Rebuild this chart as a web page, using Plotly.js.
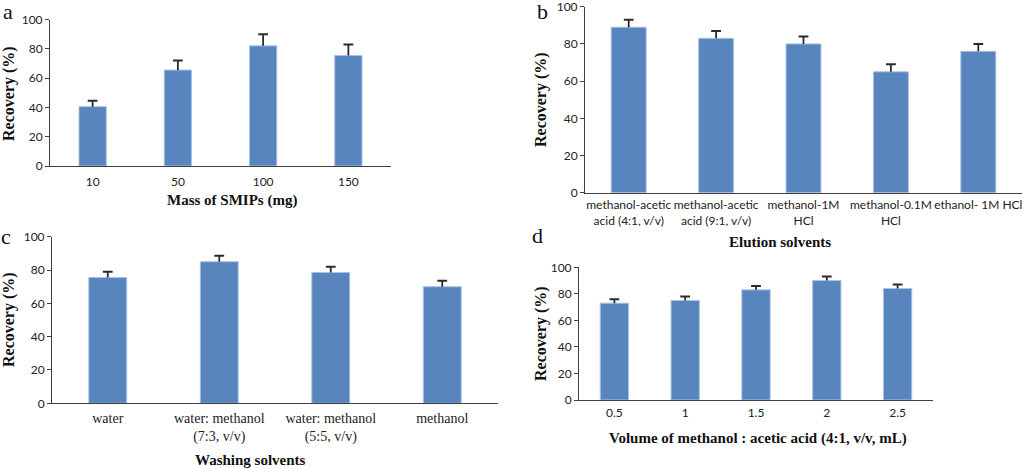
<!DOCTYPE html>
<html>
<head>
<meta charset="utf-8">
<script src="https://cdn.plot.ly/plotly-3.0.1.min.js"></script>
<style>html,body{margin:0;padding:0;background:#fff;}#chart{width:1027px;height:469px;}</style>
</head>
<body>
<div id="chart"></div>
<script>
// ---- data ----
const categoriesA = ['10', '50', '100', '150'];
const valuesA = [40.5, 65.5, 82, 75.5];
const errorsA = [4, 6.5, 8, 7.5];

const categoriesB = ['methanol-acetic<br>acid (4:1, v/v)', 'methanol-acetic<br>acid (9:1, v/v)', 'methanol-1M<br>HCl', 'methanol-0.1M<br>HCl', 'ethanol- 1M HCl'];
const valuesB = [89, 83, 80, 65, 76];
const errorsB = [4, 4, 4, 4, 4];

const categoriesC = ['water', 'water: methanol<br>(7:3, v/v)', 'water: methanol<br>(5:5, v/v)', 'methanol'];
const valuesC = [75.5, 85, 78.5, 70];
const errorsC = [3.5, 3.5, 3.5, 3.5];

const categoriesD = ['0.5', '1', '1.5', '2', '2.5'];
const valuesD = [73, 75, 83, 90, 84];
const errorsD = [3, 3, 3, 3, 3];

const yTicks = [0, 20, 40, 60, 80, 100];
const yTitle = 'Recovery (%)';
const xTitles = ['Mass of SMIPs (mg)', 'Elution solvents', 'Washing solvents', 'Volume of methanol : acetic acid (4:1, v/v, mL)'];
const panelLetters = ['a', 'b', 'c', 'd'];

// ---- layout helpers ----
const W = 1027, H = 469;
const px = x => x / W;
const py = y => (H - y) / H;

const barColor = '#5985bf';
const barEdge = '#a9c3e4';
const errColor = '#2b2b2b';
const sansFont = 'Lato, "Open Sans", sans-serif';
const serifFont = 'Liberation Serif, DejaVu Serif, serif';

function panelTraces(cats, vals, errs, xa, ya, width) {
  const bar = {
    type: 'bar', x: cats, y: vals, xaxis: xa, yaxis: ya, width: width,
    marker: {color: barColor, line: {color: barEdge, width: 1}},
    error_y: {type: 'data', symmetric: false, array: errs, arrayminus: errs.map(() => 0),
              width: 0, thickness: 1.8, color: errColor},
    showlegend: false, hoverinfo: 'x+y'
  };
  const caps = {
    type: 'scatter', mode: 'markers', x: cats, y: vals.map((v, i) => v + errs[i]),
    xaxis: xa, yaxis: ya,
    marker: {symbol: 'line-ew-open', size: 7, color: errColor, line: {color: errColor, width: 2}},
    showlegend: false, hoverinfo: 'skip'
  };
  return [bar, caps];
}

const data = [
  ...panelTraces(categoriesA, valuesA, errorsA, 'x', 'y', 0.32),
  ...panelTraces(categoriesB, valuesB, errorsB, 'x2', 'y2', 0.4),
  ...panelTraces(categoriesC, valuesC, errorsC, 'x3', 'y3', 0.34),
  ...panelTraces(categoriesD, valuesD, errorsD, 'x4', 'y4', 0.4)
];

function xAxis(domain, anchor, tickFont, labelStandoff) {
  return {
    domain: domain, anchor: anchor, type: 'category',
    showline: true, linecolor: '#404040', linewidth: 1,
    ticks: '', showgrid: false, zeroline: false,
    tickfont: tickFont, ticklabelstandoff: labelStandoff,
    ticklabeloverflow: 'allow', fixedrange: true
  };
}
function yAxis(domain, anchor) {
  return {
    domain: domain, anchor: anchor, range: [0, 100],
    tickvals: yTicks, ticktext: yTicks.map(String),
    showline: true, linecolor: '#404040', linewidth: 1,
    ticks: 'outside', ticklen: 4, tickcolor: '#404040',
    showgrid: false, zeroline: false,
    ticklabeloverflow: 'allow',
    tickfont: {family: sansFont, size: 12, color: '#222'},
    fixedrange: true
  };
}

const sansTick = {family: sansFont, size: 12, color: '#222'};
const serifTick = {family: serifFont, size: 14, color: '#222'};

function ann(text, x, y, size, bold, angle) {
  return {
    text: bold ? '<b>' + text + '</b>' : text,
    xref: 'paper', yref: 'paper', x: px(x), y: py(y),
    xanchor: 'center', yanchor: 'middle', showarrow: false,
    textangle: angle || 0,
    font: {family: serifFont, size: size, color: '#111'}
  };
}

const layout = {
  width: W, height: H,
  margin: {l: 0, r: 0, t: 0, b: 0},
  paper_bgcolor: '#fff', plot_bgcolor: '#fff',
  showlegend: false,
  xaxis: xAxis([px(50), px(391)], 'y', sansTick, 5),
  yaxis: yAxis([py(166), py(19.5)], 'x'),
  xaxis2: xAxis([px(585), px(1022)], 'y2', sansTick, 1),
  yaxis2: yAxis([py(192.7), py(6.7)], 'x2'),
  xaxis3: xAxis([px(52), px(498)], 'y3', serifTick, 2),
  yaxis3: yAxis([py(403.3), py(236.7)], 'x3'),
  xaxis4: xAxis([px(579), px(933)], 'y4', sansTick, 2),
  yaxis4: yAxis([py(400), py(267.3)], 'x4'),
  annotations: [
    ann(xTitles[0], 232, 200, 15, true),
    ann(xTitles[1], 780, 242, 15, true),
    ann(xTitles[2], 250, 460, 15, true),
    ann(xTitles[3], 758, 438, 15, true),
    ann(yTitle, 9, 94, 16, true, -90),
    ann(yTitle, 541, 100, 16, true, -90),
    ann(yTitle, 9, 320, 16, true, -90),
    ann(yTitle, 541, 334, 16, true, -90),
    ann(panelLetters[0], 8, 12, 22, false),
    ann(panelLetters[1], 542, 11, 22, false),
    ann(panelLetters[2], 6, 237, 22, false),
    ann(panelLetters[3], 537, 235, 22, false)
  ]
};

Plotly.newPlot('chart', data, layout, {displayModeBar: false, staticPlot: true});
</script>
</body>
</html>
